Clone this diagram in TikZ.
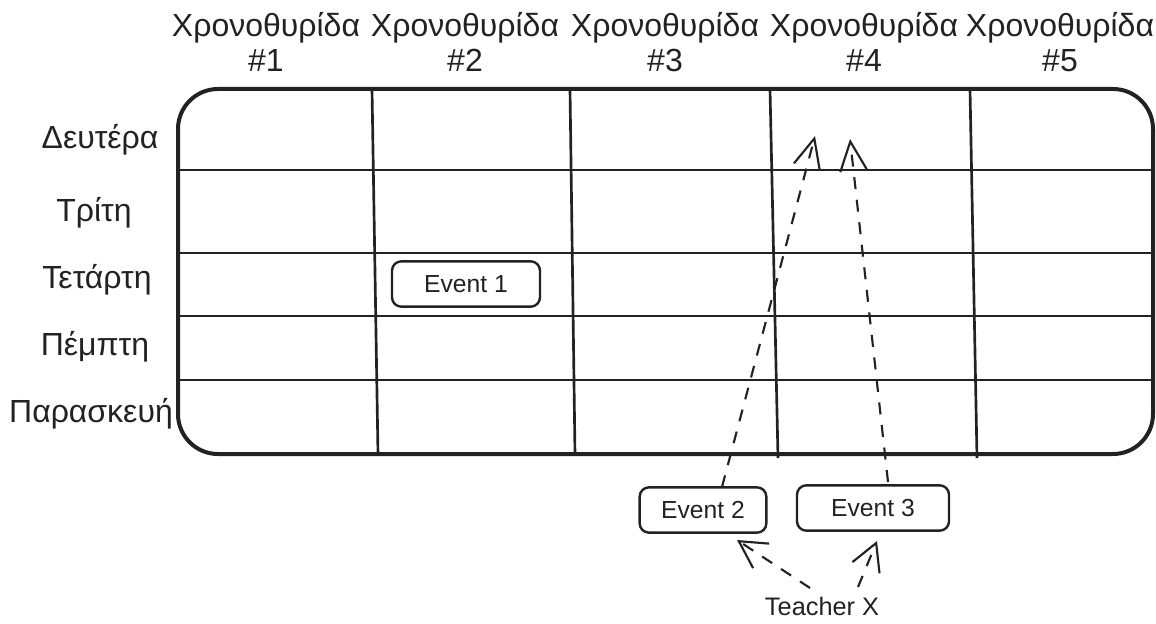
\documentclass[tikz,border=0pt]{standalone}
\usepackage{fontspec}
\setmainfont{Liberation Sans}
\usetikzlibrary{arrows.meta}
\definecolor{ink}{HTML}{222222}
\begin{document}
\begin{tikzpicture}[x=0.75pt,y=-0.75pt,
  hdr/.style={font=\fontsize{24}{26.5}\selectfont,text=ink,align=center,inner sep=0pt},
  day/.style={font=\fontsize{24}{27}\selectfont,text=ink},
  ev/.style={draw=ink,line width=1.8pt,rounded corners=7pt,font=\fontsize{18.5}{21}\selectfont,text=ink,inner sep=0pt},
  grid/.style={draw=ink,line width=2pt},
  dsh/.style={draw=ink,line width=1.6pt,dash pattern=on 9pt off 8pt},
  barb/.style={-{Straight Barb[length=22pt,width=20pt,line width=1.6pt]}},
  sbarb/.style={-{Straight Barb[length=20pt,width=22pt,line width=1.6pt]}}]
\useasboundingbox (0,0) rectangle (1156,624);
% headers
\node[hdr] (h1) at (266,42) {Χρονοθυρίδα\\\#1};
\node[hdr] (h2) at (465,42) {Χρονοθυρίδα\\\#2};
\node[hdr] (h3) at (665,42) {Χρονοθυρίδα\\\#3};
\node[hdr] (h4) at (864,42) {Χρονοθυρίδα\\\#4};
\node[hdr] (h5) at (1060,42) {Χρονοθυρίδα\\\#5};
% day labels
\node[day] (d1) at (100,140) {Δευτέρα};
\node[day] (d2) at (94,213) {Τρίτη};
\node[day] (d3) at (97,280) {Τετάρτη};
\node[day] (d4) at (95,347) {Πέμπτη};
\node[day] (d5) at (91,414) {Παρασκευή};
% grid
\draw[draw=ink,line width=3pt,rounded corners=30pt] (178,89) rectangle (1153,454);
\draw[grid] (178,170) -- (1153,170);
\draw[grid] (178,253) -- (1153,253);
\draw[grid] (178,316) -- (1153,316);
\draw[grid] (178,380) -- (1153,380);
\draw[grid] (372,89) -- (378,455);
\draw[grid] (570,89) -- (575,455);
\draw[grid] (770,89) -- (778,458);
\draw[grid] (970,89) -- (977,458);
% events
\node[ev,minimum width=111pt,minimum height=34pt] (e1) at (466,284) {Event 1};
\node[ev,minimum width=95pt,minimum height=34pt] (e2) at (703,510) {Event 2};
\node[ev,minimum width=114pt,minimum height=34pt] (e3) at (873,508) {Event 3};
\node[font=\fontsize{19}{22}\selectfont,text=ink] (tx) at (822,606) {Teacher X};
% arrow targets
\coordinate (t2) at (815,136);
\coordinate (t3) at (850,139);
\coordinate (s2) at (722,487);
\coordinate (s3) at (888,482);
\coordinate (q2) at (810,588);
\coordinate (q3) at (858,587);
\coordinate (p2) at (737,540);
\coordinate (p3) at (877,541);
\draw[dsh,barb] (s2) -- (t2);
\draw[dsh,barb] (s3) -- (t3);
\draw[dsh,sbarb] (q2) -- (p2);
\draw[dsh,sbarb] (q3) -- (p3);
\end{tikzpicture}
\end{document}
